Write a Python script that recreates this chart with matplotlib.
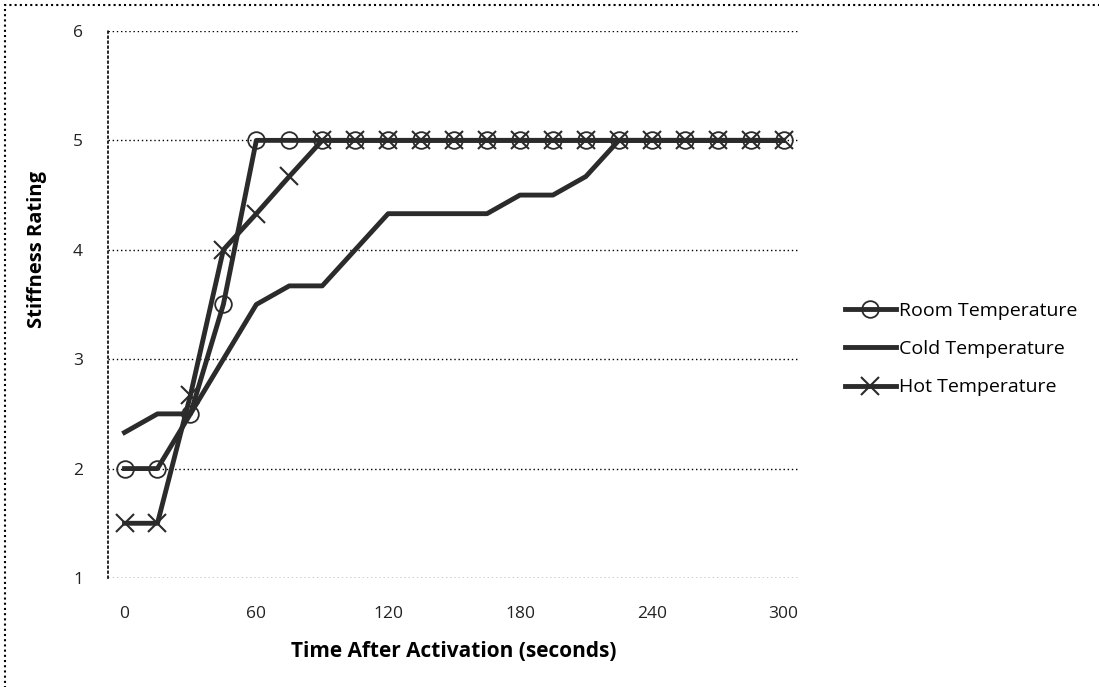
import matplotlib
matplotlib.use("Agg")
import matplotlib.pyplot as plt
from matplotlib.patches import Rectangle

time_s = [0, 15, 30, 45, 60, 75, 90, 105, 120, 135, 150, 165, 180, 195, 210, 225, 240, 255, 270, 285, 300]
room = [2, 2, 2.5, 3.5, 5, 5, 5, 5, 5, 5, 5, 5, 5, 5, 5, 5, 5, 5, 5, 5, 5]
cold = [2.33, 2.5, 2.5, 3.0, 3.5, 3.67, 3.67, 4.0, 4.33, 4.33, 4.33, 4.33, 4.5, 4.5, 4.67, 5, 5, 5, 5, 5, 5]
hot = [1.5, 1.5, 2.67, 4.0, 4.33, 4.67, 5, 5, 5, 5, 5, 5, 5, 5, 5, 5, 5, 5, 5, 5, 5]
x_ticks = [0, 60, 120, 180, 240, 300]
y_ticks = [1, 2, 3, 4, 5, 6]

plt.rcParams['font.family'] = ['Open Sans', 'DejaVu Sans']

fig = plt.figure(figsize=(10.99, 6.87), dpi=100)
ax = fig.add_axes([0.0983, 0.1587, 0.6297, 0.7962])

lc = '#2b2b2b'
ax.plot(time_s, room, color=lc, lw=3.5, marker='o', ms=12, mfc='none', mec=lc, mew=1.3,
        label='Room Temperature', zorder=3)
ax.plot(time_s, cold, color=lc, lw=3.5, label='Cold Temperature', zorder=3)
ax.plot(time_s, hot, color=lc, lw=3.5, marker='x', ms=13, mec=lc, mew=1.5,
        label='Hot Temperature', zorder=3)

ax.set_xlim(-7.5, 307.5)
ax.set_ylim(1, 6)
ax.set_xticks(x_ticks)
ax.set_yticks(y_ticks)
ax.tick_params(length=0, labelsize=12.5, colors='#222222')
ax.tick_params(axis='x', pad=20)
ax.tick_params(axis='y', pad=18)
ax.yaxis.grid(True, color='black', linestyle=(0, (1, 2)), lw=1)
for s in ['top', 'right', 'bottom']:
    ax.spines[s].set_visible(False)
ax.spines['left'].set_linestyle((0, (1, 2)))
ax.spines['left'].set_linewidth(1.2)

ax.set_xlabel('Time After Activation (seconds)', fontsize=15, fontweight='bold', labelpad=14)
ax.set_ylabel('Stiffness Rating', fontsize=14.5, fontweight='bold')
ax.yaxis.set_label_coords(-0.088, 0.60)

fig.legend(loc='center left', bbox_to_anchor=(0.753, 0.492), frameon=False, fontsize=14,
           handlelength=2.6, handletextpad=0.15, labelspacing=1.05)

fig.add_artist(Rectangle((0.005, -0.01), 1.1, 1.003, transform=fig.transFigure, fill=False,
                         edgecolor='black', linestyle=(0, (1, 1.5)), lw=1.5))

fig.savefig('out.png', dpi=100)
